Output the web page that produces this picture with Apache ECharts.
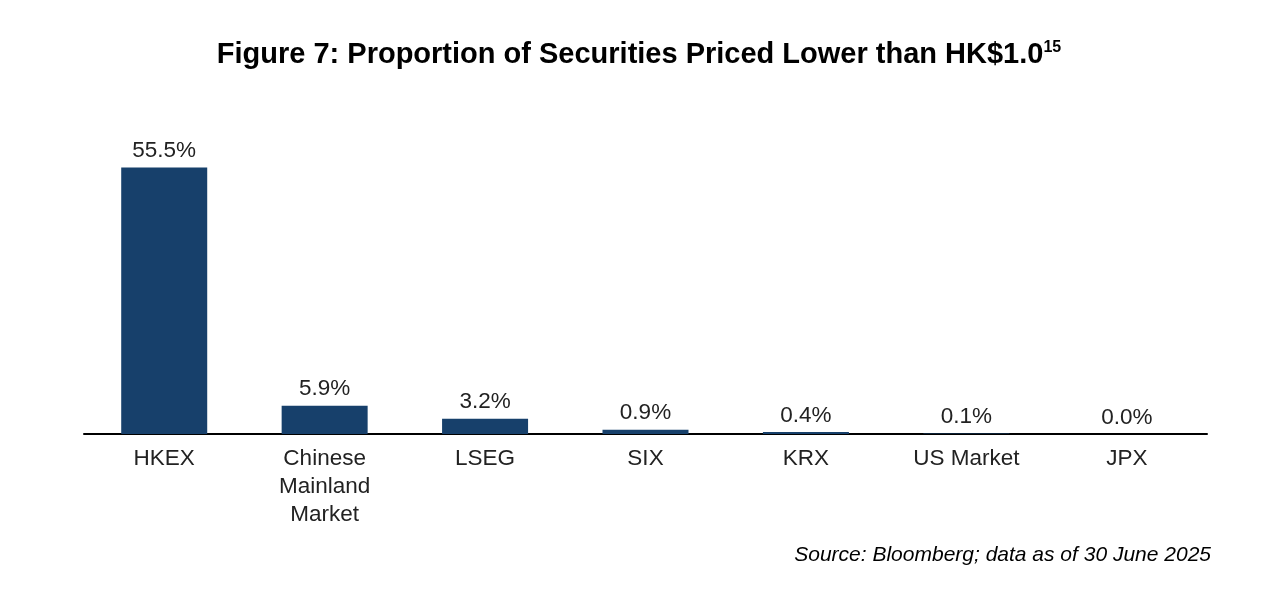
<!DOCTYPE html>
<html>
<head>
<meta charset="utf-8">
<script src="https://cdn.jsdelivr.net/npm/echarts@6/dist/echarts.min.js"></script>
<style>html,body{margin:0;padding:0;background:#fff;}#c{width:1278px;height:594px;}</style>
</head>
<body>
<div id="c"></div>
<script>
const categories = ['HKEX', 'Chinese\nMainland\nMarket', 'LSEG', 'SIX', 'KRX', 'US Market', 'JPX'];
const values = [55.5, 5.9, 3.2, 0.9, 0.4, 0.1, 0.0];
const titleText = 'Figure 7: Proportion of Securities Priced Lower than HK$1.0';
const sourceText = 'Source: Bloomberg; data as of 30 June 2025';

const chart = echarts.init(document.getElementById('c'));
chart.setOption({
  animation: false,
  backgroundColor: '#fff',
  title: [{
    text: '{m|' + titleText + '}{s|15}',
    left: 'center',
    top: 35,
    textStyle: {
      rich: {
        m: { fontFamily: 'Liberation Sans, Arial', fontWeight: 'bold', fontSize: 29, color: '#000' },
        s: { fontFamily: 'Liberation Sans, Arial', fontWeight: 'bold', fontSize: 16, color: '#000', verticalAlign: 'top', padding: [0, 0, 12, 0] }
      }
    }
  }, {
    text: sourceText,
    right: 62,
    top: 540,
    textStyle: { fontFamily: 'Liberation Sans, Arial', fontStyle: 'italic', fontWeight: 'normal', fontSize: 21, color: '#000' }
  }],
  grid: { left: 84, right: 71, top: 146, bottom: 160, containLabel: false },
  xAxis: {
    type: 'category',
    data: categories,
    axisLine: { lineStyle: { color: '#000', width: 2 } },
    axisTick: { show: false },
    axisLabel: { fontFamily: 'Liberation Sans, Arial', fontSize: 22.5, color: '#222', lineHeight: 28, margin: 11, interval: 0 }
  },
  yAxis: {
    type: 'value', min: 0, max: 60,
    show: false,
    splitLine: { show: false }
  },
  series: [{
    type: 'bar',
    data: values,
    barWidth: 86,
    itemStyle: { color: '#17406B' },
    label: {
      show: true, position: 'top', distance: 5,
      formatter: p => p.value.toFixed(1) + '%',
      fontFamily: 'Liberation Sans, Arial', fontSize: 22.5, color: '#222'
    }
  }]
});
</script>
</body>
</html>
